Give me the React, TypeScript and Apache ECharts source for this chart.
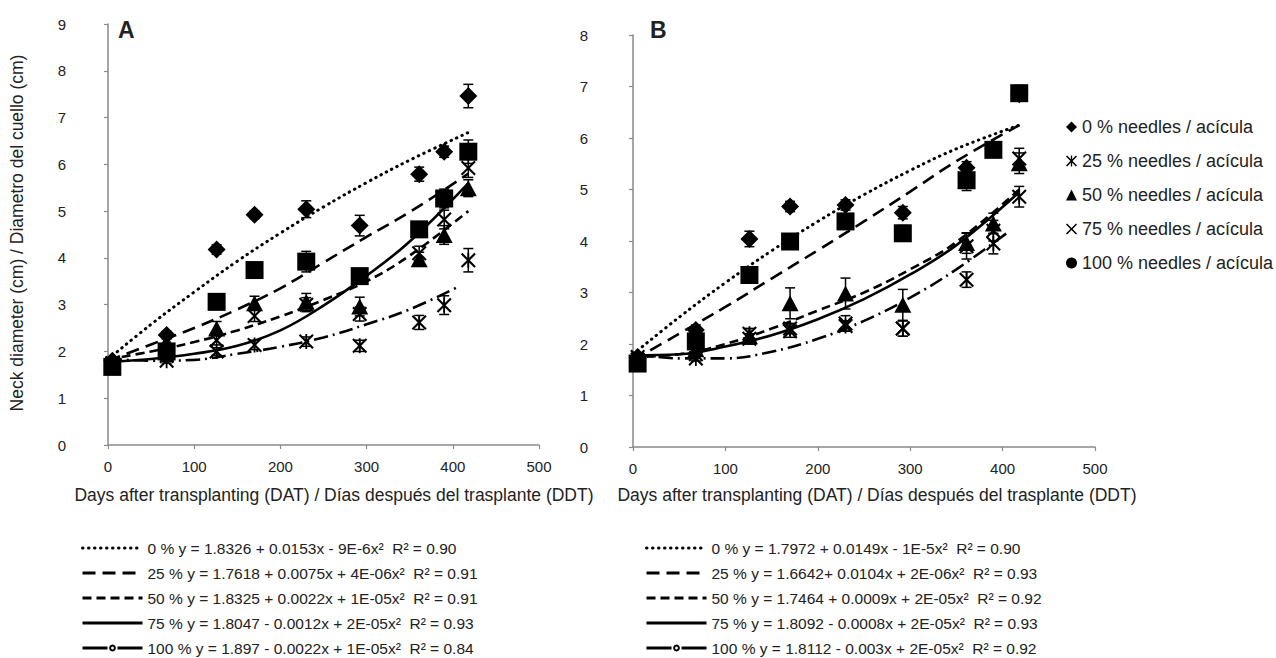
import React, { useEffect, useRef } from "react";
import * as echarts from "echarts";

// ---------- data ----------
const days = [5, 68, 126, 170, 230, 292, 361, 390, 418];

const treatments = [
  "0 % needles / acícula",
  "25 % needles / acícula",
  "50 % needles / acícula",
  "75 % needles / acícula",
  "100 % needles / acícula",
];

// Panel A (means)
const a0 = [1.8, 2.35, 4.18, 4.92, 5.04, 4.69, 5.79, 6.27, 7.46];
const a25 = [1.75, 1.8, 2.0, 2.14, 2.21, 2.12, 2.62, 2.99, 3.95];
const a50 = [1.8, 2.2, 2.49, 3.03, 3.06, 2.96, 3.97, 4.49, 5.49];
const a75 = [1.75, 1.9, 2.24, 2.76, 3.0, 2.8, 4.1, 4.82, 5.92];
const a100 = [1.67, 2.0, 3.06, 3.74, 3.92, 3.61, 4.61, 5.27, 6.27];
// Panel A (standard errors)
const eA0 = [0.05, 0.08, 0.1, 0.08, 0.18, 0.22, 0.15, 0.12, 0.25];
const eA25 = [0.05, 0.05, 0.08, 0.1, 0.1, 0.12, 0.15, 0.2, 0.25];
const eA50 = [0.05, 0.1, 0.15, 0.15, 0.18, 0.2, 0.15, 0.2, 0.18];
const eA75 = [0.05, 0.05, 0.1, 0.12, 0.15, 0.15, 0.15, 0.2, 0.2];
const eA100 = [0.05, 0.1, 0.1, 0.1, 0.22, 0.12, 0.1, 0.2, 0.25];

// Panel B (means)
const b0 = [1.75, 2.27, 4.04, 4.67, 4.7, 4.55, 5.42, 5.8, 6.85];
const b25 = [1.7, 1.72, 2.2, 2.3, 2.35, 2.3, 3.25, 3.95, 4.86];
const b50 = [1.72, 1.9, 2.15, 2.79, 2.98, 2.76, 3.96, 4.34, 5.51];
const b75 = [1.75, 1.8, 2.1, 2.25, 2.4, 2.3, 3.9, 4.2, 5.6];
const b100 = [1.62, 2.05, 3.34, 3.99, 4.38, 4.15, 5.18, 5.77, 6.87];
// Panel B (standard errors)
const eB0 = [0.05, 0.1, 0.15, 0.1, 0.1, 0.12, 0.12, 0.1, 0.1];
const eB25 = [0.05, 0.05, 0.1, 0.1, 0.1, 0.15, 0.15, 0.2, 0.2];
const eB50 = [0.05, 0.1, 0.15, 0.3, 0.3, 0.3, 0.2, 0.2, 0.2];
const eB75 = [0.05, 0.05, 0.1, 0.12, 0.15, 0.15, 0.25, 0.2, 0.2];
const eB100 = [0.05, 0.1, 0.1, 0.1, 0.15, 0.15, 0.2, 0.12, 0.15];

// Trend lines
const trendX = [0, 50, 100, 150, 200, 250, 300, 350, 418];
const trendX100 = [0, 50, 100, 150, 200, 250, 300, 350, 408];
const tA0 = [1.83, 2.58, 3.27, 3.93, 4.53, 5.09, 5.61, 6.09, 6.68];
const tA25 = [1.8, 2.15, 2.5, 2.9, 3.35, 3.9, 4.45, 4.98, 5.8];
const tA50 = [1.83, 2.0, 2.2, 2.45, 2.75, 3.1, 3.5, 4.05, 5.0];
const tA75 = [1.78, 1.84, 1.95, 2.12, 2.45, 2.98, 3.62, 4.35, 5.6];
const tA100 = [1.85, 1.8, 1.82, 1.95, 2.1, 2.3, 2.58, 2.9, 3.4];
const tB0 = [1.8, 2.52, 3.19, 3.81, 4.38, 4.9, 5.37, 5.79, 6.25];
const tB25 = [1.68, 2.2, 2.72, 3.27, 3.82, 4.38, 4.96, 5.55, 6.25];
const tB50 = [1.75, 1.8, 2.0, 2.3, 2.65, 3.0, 3.45, 3.98, 5.0];
const tB75 = [1.78, 1.8, 1.95, 2.17, 2.48, 2.87, 3.35, 3.92, 4.95];
const tB100 = [1.82, 1.72, 1.72, 1.85, 2.1, 2.45, 2.9, 3.45, 4.2];

const eqA = [
  "0 % y = 1.8326 + 0.0153x - 9E-6x²  R² = 0.90",
  "25 % y = 1.7618 + 0.0075x + 4E-06x²  R² = 0.91",
  "50 % y = 1.8325 + 0.0022x + 1E-05x²  R² = 0.91",
  "75 % y = 1.8047 - 0.0012x + 2E-05x²  R² = 0.93",
  "100 % y = 1.897 - 0.0022x + 1E-05x²  R² = 0.84",
];
const eqB = [
  "0 % y = 1.7972 + 0.0149x - 1E-5x²  R² = 0.90",
  "25 % y = 1.6642+ 0.0104x + 2E-06x²  R² = 0.93",
  "50 % y = 1.7464 + 0.0009x + 2E-05x²  R² = 0.92",
  "75 % y = 1.8092 - 0.0008x + 2E-05x²  R² = 0.93",
  "100 % y = 1.8112 - 0.003x + 2E-05x²  R² = 0.92",
];

const xTicks = [0, 100, 200, 300, 400, 500];
const xAxisTitle = "Days after transplanting (DAT) / Días después del trasplante (DDT)";
const yAxisTitle = "Neck diameter (cm) / Diametro del cuello (cm)";

// ---------- styles ----------
const SANS = "'Liberation Sans', Arial, sans-serif";
const AXIS_GREY = "#8a8a8a";

const CROSS = "path://M1,0 L5,4 L9,0 L10,1 L6,5 L10,9 L9,10 L5,6 L1,10 L0,9 L4,5 L0,1 Z";
const ASTER =
  "path://M1,0 L5,4 L9,0 L10,1 L6,5 L10,9 L9,10 L5,6 L1,10 L0,9 L4,5 L0,1 Z M4.4,0 L5.6,0 L5.6,10 L4.4,10 Z";

const symbols = ["diamond", ASTER, "triangle", CROSS, "rect"];
const symbolSizes = [[18, 18], 15, [17, 16], 15, 18];
const legendIcons = ["diamond", ASTER, "triangle", CROSS, "circle"];
const dashTypes: any[] = [[0.5, 5.5], [13, 7], [9, 5], "solid", [14, 5, 2, 5]];
const lineWidths = [3, 2.6, 2.6, 2.6, 2.6];

export default function App() {
  const ref = useRef<HTMLDivElement>(null);

  useEffect(() => {
    if (!ref.current) return;
    const chart = echarts.init(ref.current, undefined, { renderer: "svg" });

    const meansA = [a0, a25, a50, a75, a100];
    const errsA = [eA0, eA25, eA50, eA75, eA100];
    const meansB = [b0, b25, b50, b75, b100];
    const errsB = [eB0, eB25, eB50, eB75, eB100];
    const trendsA = [tA0, tA25, tA50, tA75, tA100];
    const trendsB = [tB0, tB25, tB50, tB75, tB100];

    const errorBar = (params: any, api: any) => {
      const x = api.value(0);
      const y = api.value(1);
      const e = api.value(2);
      const t = api.coord([x, y + e]);
      const b = api.coord([x, y - e]);
      const w = 5;
      const st = { stroke: "#000", lineWidth: 1.5 };
      return {
        type: "group",
        children: [
          { type: "line", shape: { x1: t[0], y1: t[1], x2: b[0], y2: b[1] }, style: st },
          { type: "line", shape: { x1: t[0] - w, y1: t[1], x2: t[0] + w, y2: t[1] }, style: st },
          { type: "line", shape: { x1: b[0] - w, y1: b[1], x2: b[0] + w, y2: b[1] }, style: st },
        ],
      };
    };

    const series: any[] = [];
    const addPanel = (panel: number, means: number[][], errs: number[][], trends: number[][], eqs: string[]) => {
      means.forEach((vals, i) => {
        series.push({
          type: "custom",
          name: "err" + panel + "_" + i,
          xAxisIndex: panel,
          yAxisIndex: panel,
          renderItem: errorBar,
          encode: { x: 0, y: 1 },
          data: days.map((d, j) => [d, vals[j], errs[i][j]]),
          z: 2,
          silent: true,
        });
        series.push({
          type: "scatter",
          name: treatments[i],
          xAxisIndex: panel,
          yAxisIndex: panel,
          symbol: symbols[i],
          symbolSize: symbolSizes[i],
          itemStyle: { color: "#000", opacity: 1 },
          data: days.map((d, j) => [d, vals[j]]),
          z: 2,
        });
      });
      trends.forEach((vals, i) => {
        const xs = i === 4 ? trendX100 : trendX;
        series.push({
          type: "line",
          name: eqs[i],
          xAxisIndex: panel,
          yAxisIndex: panel,
          smooth: 0.4,
          showSymbol: false,
          symbol: i === 4 ? "emptyCircle" : "none",
          symbolSize: 5,
          itemStyle: { color: "#000" },
          lineStyle: {
            color: "#000",
            width: lineWidths[i],
            type: dashTypes[i],
            cap: i === 0 ? "round" : "butt",
          },
          data: xs.map((x, j) => [x, vals[j]]),
          z: 4,
          silent: true,
        });
      });
    };
    addPanel(0, meansA, errsA, trendsA, eqA);
    addPanel(1, meansB, errsB, trendsB, eqB);

    const xAxisBase = (idx: number) => ({
      type: "value",
      gridIndex: idx,
      min: xTicks[0],
      max: xTicks[xTicks.length - 1],
      interval: 100,
      splitLine: { show: false },
      axisLine: { show: true, onZero: false, lineStyle: { color: AXIS_GREY, width: 1.5 } },
      axisTick: { show: true, length: 4, lineStyle: { color: AXIS_GREY, width: 1.2 } },
      axisLabel: { color: "#222", fontSize: 15, fontFamily: SANS, margin: 14 },
    });
    const yAxisBase = (idx: number, max: number, margin: number) => ({
      type: "value",
      gridIndex: idx,
      min: 0,
      max,
      interval: 1,
      splitLine: { show: false },
      axisLine: { show: true, lineStyle: { color: AXIS_GREY, width: 1.5 } },
      axisTick: { show: true, length: 4, lineStyle: { color: AXIS_GREY, width: 1.2 } },
      axisLabel: { color: "#222", fontSize: 15, fontFamily: SANS, margin },
    });

    const lineLegend = (left: number, names: string[]) => ({
      orient: "vertical",
      left,
      top: 539,
      itemWidth: 60,
      itemHeight: 6,
      itemGap: 7,
      padding: 0,
      selectedMode: false,
      lineStyle: { width: 3, color: "#000" },
      data: names.map((n, i) =>
        i === 4
          ? { name: n, lineStyle: { type: [25, 10], width: 3, color: "#000" } }
          : {
              name: n,
              itemStyle: { opacity: 0 },
              lineStyle: { width: 3, color: "#000", type: dashTypes[i], cap: i === 0 ? "round" : "butt" },
            }
      ),
      textStyle: { color: "#222", fontSize: 15.5, fontFamily: SANS, lineHeight: 18 },
    });

    const titleStyle = (text: string) => ({
      text,
      fontSize: 17.5,
      fontFamily: SANS,
      fill: "#222",
      align: "center",
      verticalAlign: "middle",
    });

    chart.setOption({
      animation: false,
      backgroundColor: "#fff",
      grid: [
        { left: 108, top: 24, width: 431, height: 421 },
        { left: 633, top: 35, width: 462, height: 412 },
      ],
      xAxis: [xAxisBase(0), xAxisBase(1)],
      yAxis: [yAxisBase(0, 9, 42), yAxisBase(1, 8, 45)],
      legend: [
        {
          orient: "vertical",
          left: 1066,
          top: 117,
          itemWidth: 11,
          itemHeight: 11,
          itemGap: 14,
          padding: 0,
          selectedMode: false,
          data: treatments.map((n, i) => ({ name: n, icon: legendIcons[i] })),
          itemStyle: { color: "#000", opacity: 1 },
          textStyle: { color: "#222", fontSize: 18, fontFamily: SANS, lineHeight: 20 },
        },
        lineLegend(81, eqA),
        lineLegend(645, eqB),
      ],
      graphic: [
        {
          type: "text",
          left: 118,
          top: 18,
          style: { text: "A", fontSize: 23, fontWeight: "bold", fontFamily: SANS, fill: "#222" },
        },
        {
          type: "text",
          left: 650,
          top: 18,
          style: { text: "B", fontSize: 23, fontWeight: "bold", fontFamily: SANS, fill: "#222" },
        },
        { type: "text", x: 334, y: 495, style: titleStyle(xAxisTitle) },
        { type: "text", x: 877, y: 495, style: titleStyle(xAxisTitle) },
        { type: "text", x: 17, y: 233, rotation: Math.PI / 2, style: titleStyle(yAxisTitle) },
      ],
      series,
    });

    return () => chart.dispose();
  }, []);

  return (
    <div
      ref={ref}
      style={{ position: "fixed", left: 0, top: 0, width: 1276, height: 658, background: "#fff" }}
    />
  );
}
